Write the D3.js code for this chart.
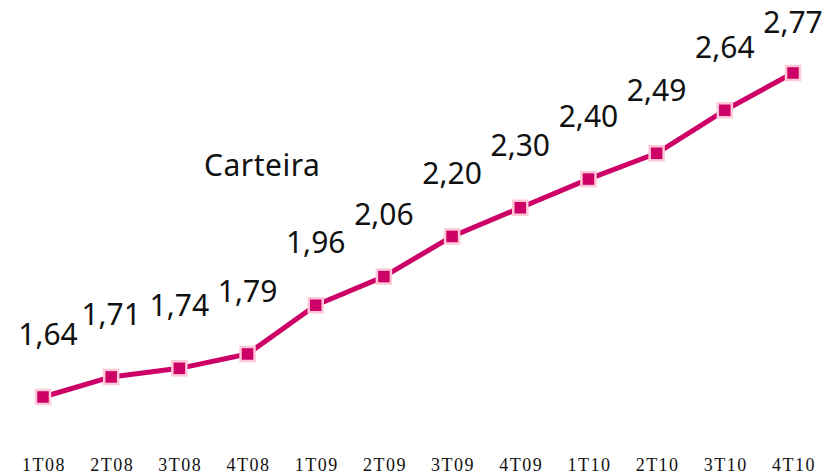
<!DOCTYPE html>
<html><head><meta charset="utf-8">
<script src="https://cdn.jsdelivr.net/npm/d3@7"></script>
<style>body{margin:0;background:#fff}svg{display:block}</style>
</head><body>
<svg id="c" width="823" height="476"></svg>
<script>
const categories = ["1T08","2T08","3T08","4T08","1T09","2T09","3T09","4T09","1T10","2T10","3T10","4T10"];
const values = [1.64,1.71,1.74,1.79,1.96,2.06,2.20,2.30,2.40,2.49,2.64,2.77];
const seriesName = "Carteira";

const svg = d3.select("#c");
const x = d3.scalePoint().domain(categories).range([43, 793]);
const y = d3.scaleLinear().domain([1.64, 2.77]).range([397, 73]);
const fmt = v => d3.format(".2f")(v).replace(".", ",");

const data = categories.map((c,i)=>({c, v: values[i]}));

svg.append("path").datum(data)
  .attr("fill","none").attr("stroke","#CC0066").attr("stroke-width",5)
  .attr("stroke-linejoin","round")
  .attr("d", d3.line().x(d=>x(d.c)).y(d=>y(d.v)));

svg.selectAll("rect.m").data(data).join("rect").attr("class","m")
  .attr("x", d=>x(d.c)-7).attr("y", d=>y(d.v)-7)
  .attr("width",14).attr("height",14)
  .attr("fill","#CC0066").attr("stroke","#FFC8D8").attr("stroke-width",2.5);

svg.selectAll("text.v").data(data).join("text").attr("class","v")
  .attr("x", d=>x(d.c)+ (d.c==="1T08"?5:0))
  .attr("y", d=>Math.max(33, y(d.v)-52))
  .attr("text-anchor","middle")
  .attr("font-family","'Noto Sans', sans-serif").attr("font-size",30)
  .attr("fill","#111")
  .text(d=>fmt(d.v));

svg.append("text").attr("x",204).attr("y",176)
  .attr("font-family","'Noto Sans', sans-serif").attr("font-size",30)
  .attr("letter-spacing","0.5px")
  .attr("fill","#111").text(seriesName);

svg.selectAll("text.xl").data(categories).join("text").attr("class","xl")
  .attr("x", d=>x(d)+1).attr("y",471)
  .attr("text-anchor","middle")
  .attr("font-family","'Liberation Serif', serif").attr("font-size",18)
  .attr("letter-spacing","1.5px")
  .attr("fill","#111").text(d=>d);
</script>
</body></html>
